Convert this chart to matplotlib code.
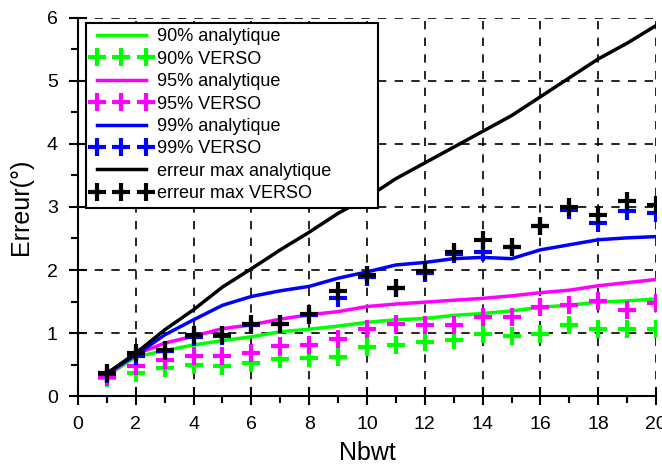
import numpy as np
import matplotlib.pyplot as plt

plt.rcParams['font.family'] = ['Liberation Sans', 'DejaVu Sans']

nbwt = np.arange(1, 21)

# courbes analytiques
ana_90 = [0.32, 0.62, 0.72, 0.81, 0.88, 0.94, 1.02, 1.06, 1.11, 1.17,
          1.21, 1.23, 1.28, 1.31, 1.35, 1.41, 1.44, 1.49, 1.51, 1.54]
ana_95 = [0.33, 0.66, 0.84, 0.95, 1.07, 1.13, 1.22, 1.29, 1.34, 1.42,
          1.46, 1.49, 1.52, 1.55, 1.59, 1.64, 1.68, 1.75, 1.80, 1.85]
ana_99 = [0.36, 0.65, 0.97, 1.21, 1.44, 1.58, 1.67, 1.74, 1.87, 1.97,
          2.08, 2.12, 2.18, 2.20, 2.18, 2.32, 2.40, 2.48, 2.51, 2.53]
ana_max = [0.36, 0.68, 1.05, 1.37, 1.73, 2.02, 2.32, 2.60, 2.90, 3.15,
           3.45, 3.70, 3.95, 4.20, 4.45, 4.75, 5.05, 5.35, 5.60, 5.88]

# résultats VERSO
verso_90 = [0.28, 0.36, 0.44, 0.50, 0.47, 0.53, 0.58, 0.60, 0.62, 0.77,
            0.81, 0.85, 0.89, 0.99, 0.96, 0.99, 1.13, 1.07, 1.06, 1.07]
verso_95 = [0.30, 0.47, 0.57, 0.63, 0.63, 0.69, 0.79, 0.81, 0.90, 1.07,
            1.14, 1.13, 1.13, 1.26, 1.26, 1.42, 1.44, 1.51, 1.37, 1.47]
verso_99 = [0.35, 0.64, 0.71, 0.94, 0.95, 1.13, 1.14, 1.28, 1.56, 1.89,
            1.72, 1.96, 2.26, 2.29, 2.37, 2.70, 2.96, 2.75, 2.93, 2.90]
verso_max = [0.36, 0.68, 0.73, 0.97, 0.97, 1.15, 1.15, 1.30, 1.66, 1.92,
             1.72, 1.98, 2.29, 2.47, 2.37, 2.70, 3.00, 2.87, 3.10, 3.03]

fig = plt.figure(figsize=(6.62, 4.66), dpi=100)
ax = fig.add_axes([0.1178, 0.1502, 0.8732, 0.8112])

lw = 2.5
mk = dict(ls='none', marker='+', ms=13, mew=3)
ax.plot(nbwt, ana_90, color='#00ff00', lw=lw, label='90% analytique')
ax.plot(nbwt, verso_90, color='#00ff00', label='90% VERSO', **mk)
ax.plot(nbwt, ana_95, color='#ff00ff', lw=lw, label='95% analytique')
ax.plot(nbwt, verso_95, color='#ff00ff', label='95% VERSO', **mk)
ax.plot(nbwt, ana_99, color='#0000ff', lw=lw, label='99% analytique')
ax.plot(nbwt, verso_99, color='#0000ff', label='99% VERSO', **mk)
ax.plot(nbwt, ana_max, color='black', lw=lw, label='erreur max analytique')
ax.plot(nbwt, verso_max, color='black', label='erreur max VERSO', **mk)

ax.set_xlim(0, 20)
ax.set_ylim(0, 6)
ax.set_xticks(np.arange(0, 21, 2))
ax.set_xticks(np.arange(0, 21, 1), minor=True)
ax.set_yticks(np.arange(0, 7, 1))
ax.set_yticks(np.arange(0, 6.01, 0.5), minor=True)
ax.tick_params(which='major', direction='inout', length=13, width=1.5,
               labelsize=14, pad=8)
ax.tick_params(which='minor', direction='out', length=5, width=1.5)
ax.grid(True, which='major', color='black', ls=(0, (5, 5)), lw=1.2)

for s in ['top', 'right']:
    ax.spines[s].set_visible(False)
for s in ['left', 'bottom']:
    ax.spines[s].set_linewidth(1.5)

ax.set_xlabel('Nbwt', fontsize=18, labelpad=6)
ax.set_ylabel('Erreur(°)', fontsize=18, labelpad=10)

leg = ax.legend(loc='upper left', bbox_to_anchor=(0.014, 0.5, 0.505, 0.487),
                mode='expand', borderaxespad=0,
                fontsize=13, numpoints=3, handlelength=3.3, handletextpad=0.35,
                labelspacing=0.3, fancybox=False, framealpha=1, edgecolor='black',
                borderpad=0.3)
leg.get_frame().set_linewidth(1.5)

fig.savefig('out.png', dpi=100)
